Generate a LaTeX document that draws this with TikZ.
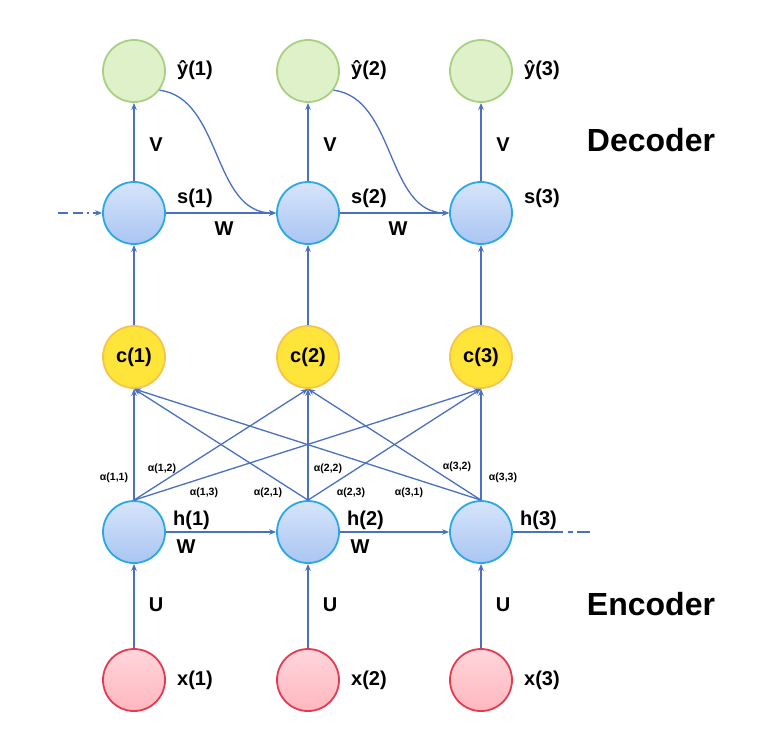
\documentclass[tikz,border=0pt]{standalone}
\usepackage{fontspec}
\setmainfont{Liberation Sans}
\usetikzlibrary{arrows.meta}
\definecolor{lineblue}{HTML}{4A70C2}
\definecolor{cyanb}{HTML}{2AA8E4}
\definecolor{bluetop}{HTML}{D6E4FA}
\definecolor{bluebot}{HTML}{A9C5F2}
\definecolor{greenfill}{HTML}{DFF1C8}
\definecolor{greenbord}{HTML}{A8D083}
\definecolor{yellowfill}{HTML}{FFE53A}
\definecolor{yellowbord}{HTML}{F5C44A}
\definecolor{pinktop}{HTML}{FFD6DB}
\definecolor{pinkbot}{HTML}{FFB6BF}
\definecolor{redbord}{HTML}{E53A50}
\tikzset{
  ln/.style={draw=lineblue, line width=1.3pt},
  conn/.style={ln, -{Stealth[length=7pt,width=5.5pt]}},
  neuron/.style={circle, minimum size=62pt, inner sep=0pt, line width=1.8pt},
  hid/.style={neuron, draw=cyanb, top color=bluetop, bottom color=bluebot},
  outn/.style={neuron, draw=greenbord, fill=greenfill},
  ctx/.style={neuron, draw=yellowbord, fill=yellowfill, font=\bfseries\fontsize{20}{20}\selectfont},
  inn/.style={neuron, draw=redbord, top color=pinktop, bottom color=pinkbot},
  lab/.style={anchor=west, inner sep=0pt, font=\bfseries\fontsize{20}{20}\selectfont},
  clab/.style={inner sep=0pt, font=\bfseries\fontsize{20}{20}\selectfont},
  alab/.style={inner sep=0pt, font=\bfseries\fontsize{10.5}{10.5}\selectfont},
  big/.style={inner sep=0pt, font=\bfseries\fontsize{32}{32}\selectfont}
}
\begin{document}
\begin{tikzpicture}[x=1pt,y=-1pt]
\useasboundingbox (0,0) rectangle (775,732);
% nodes
\foreach \i/\x in {1/134,2/308,3/481}{
  \node[outn] (y\i) at (\x,71) {};
  \node[hid] (s\i) at (\x,213) {};
  \node[ctx] (c\i) at (\x,357) {c(\i)};
  \node[hid] (h\i) at (\x,532) {};
  \node[inn] (x\i) at (\x,680) {};
}
% labels
\foreach \i/\x in {1/177,2/351,3/524}{
  \node[lab] (ly\i) at (\x,70) {ŷ(\i)};
  \node[lab] (ls\i) at (\x,198) {s(\i)};
  \node[lab] (lh\i) at (\x-4,520) {h(\i)};
  \node[lab] (lx\i) at (\x,680) {x(\i)};
}
\foreach \i/\x in {1/156,2/330,3/503}{
  \node[clab] (lv\i) at (\x,145) {V};
  \node[clab] (lu\i) at (\x,605) {U};
}
\node[clab] (lw1) at (224,229) {W};
\node[clab] (lw2) at (398,229) {W};
\node[clab] (lw3) at (186,547) {W};
\node[clab] (lw4) at (360,547) {W};
\node[big] (dec) at (651,140) {Decoder};
\node[big] (enc) at (651,604) {Encoder};
% alpha labels
\node[alab] (a11) at (114,478) {α(1,1)};
\node[alab] (a12) at (162,469) {α(1,2)};
\node[alab] (a13) at (204,493) {α(1,3)};
\node[alab] (a21) at (268,493) {α(2,1)};
\node[alab] (a22) at (328,469) {α(2,2)};
\node[alab] (a23) at (351,493) {α(2,3)};
\node[alab] (a31) at (409,493) {α(3,1)};
\node[alab] (a32) at (457,467) {α(3,2)};
\node[alab] (a33) at (503,478) {α(3,3)};
% vertical connections
\foreach \i in {1,2,3}{
  \draw[conn] (x\i) -- (h\i);
  \draw[conn] (c\i) -- (s\i);
  \draw[conn] (s\i) -- (y\i);
  \foreach \j in {1,2,3}{
    \draw[conn] (h\i.north) -- (c\j.south);
  }
}
% recurrent
\draw[conn] (s1) -- (s2);
\draw[conn] (s2) -- (s3);
\draw[conn] (h1) -- (h2);
\draw[conn] (h2) -- (h3);
\coordinate (sin) at (58,213);
\draw[conn, dash pattern=on 10pt off 5pt on 10pt off 4pt on 2pt off 4pt on 30pt] (sin) -- (s1.west);
\coordinate (hout) at (590,532);
\draw[ln, dash pattern=on 50pt off 5pt on 5pt off 4pt on 20pt] (h3.east) -- (hout);
% feedback curves
\draw[conn] (y1.-37) .. controls (222,98) and (212,213) .. (s2.west);
\draw[conn] (y2.-37) .. controls (396,98) and (386,213) .. (s3.west);
\end{tikzpicture}
\end{document}
